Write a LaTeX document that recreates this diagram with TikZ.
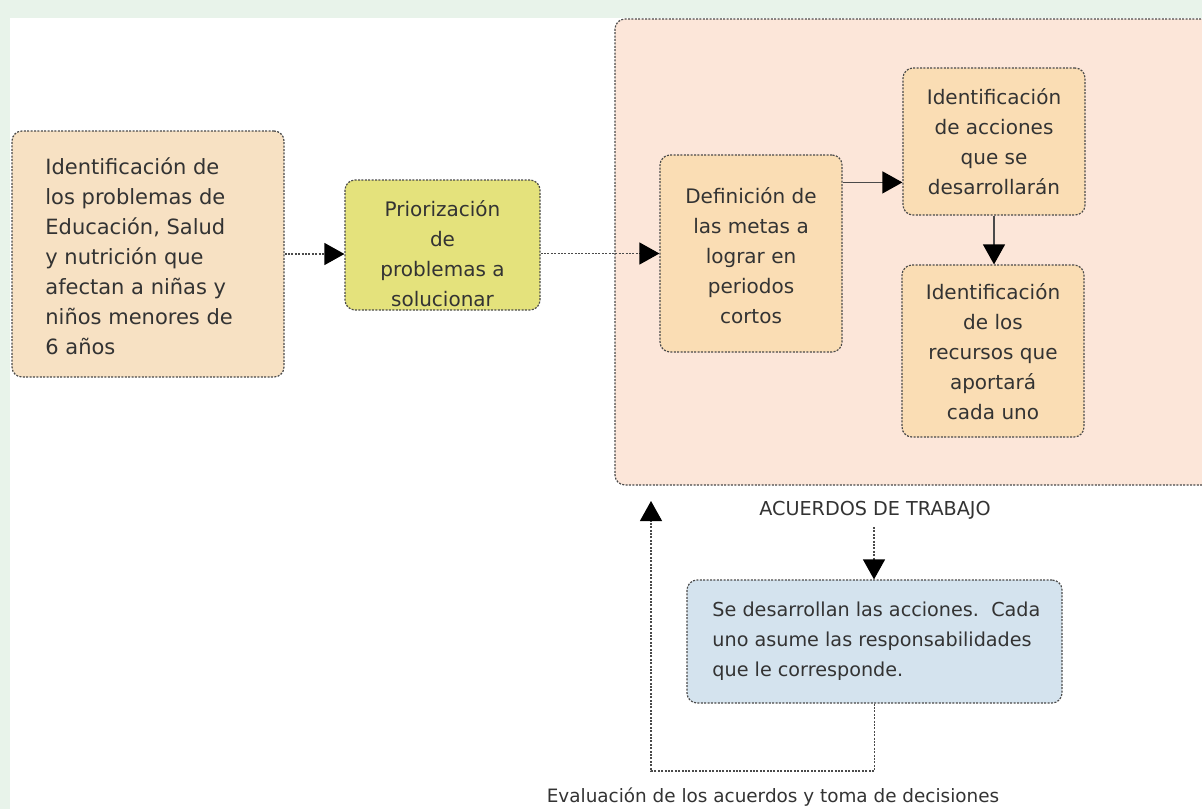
\documentclass[tikz,border=0pt]{standalone}
\usepackage{fontspec}
\setmainfont{DejaVu Sans}
\usetikzlibrary{arrows.meta}
\definecolor{bggreen}{HTML}{E8F3EA}
\definecolor{peachA}{HTML}{F7E1C3}
\definecolor{bigpeach}{HTML}{FCE6D9}
\definecolor{innerpeach}{HTML}{FADDB4}
\definecolor{yellowbox}{HTML}{E4E27C}
\definecolor{bluebox}{HTML}{D4E3EE}
\definecolor{borderc}{HTML}{4A4A4A}
\definecolor{textc}{HTML}{333333}
\begin{document}
\begin{tikzpicture}[x=0.5pt,y=-0.5pt,
  dots/.style={dash pattern=on 1pt off 0.7pt},
  box/.style={draw=borderc, dots, rounded corners=5pt, line width=0.6pt, inner sep=0pt},
  txt/.style={font=\fontsize{10}{15}\selectfont, text=textc, align=center, inner sep=0pt},
  ltxt/.style={txt, align=left},
  conn/.style={draw=borderc, dots, line width=0.6pt, -{Triangle[length=10pt,width=11pt,color=black]}},
  sconn/.style={draw=borderc, line width=0.6pt, -{Triangle[length=10pt,width=11pt,color=black]}}]
\useasboundingbox (0,0) rectangle (1202,809);
\clip (0,0) rectangle (1202,809);
\fill[white] (0,0) rectangle (1202,809);
\fill[bggreen] (0,0) rectangle (1202,18);
\fill[bggreen] (0,0) rectangle (10,809);

% big container
\node[box, fill=bigpeach, minimum width=310pt, minimum height=233pt] (big) at (925,252) {};

% boxes
\node[box, fill=peachA, minimum width=136pt, minimum height=123pt] (b1) at (148,254) {};
\node[ltxt, anchor=north west, font=\fontsize{10.5}{15}\selectfont] (b1t) at (45,157) {Identificación de\\los problemas de\\Educación, Salud\\y nutrición que\\afectan a niñas y\\niños menores de\\6 años};

\node[box, fill=yellowbox, minimum width=97.5pt, minimum height=65pt] (b2) at (442.5,245) {};
\node[txt] (b2t) at (442.5,254) {Priorización\\de\\problemas a\\solucionar};

\node[box, fill=innerpeach, minimum width=91pt, minimum height=98.5pt] (b3) at (751,253.5) {};
\node[txt] (b3t) at (751,256) {Definición de\\las metas a\\lograr en\\periodos\\cortos};

\node[box, fill=innerpeach, minimum width=91pt, minimum height=73.5pt] (b4) at (994,141.5) {};
\node[txt] (b4t) at (994,141.5) {Identificación\\de acciones\\que se\\desarrollarán};

\node[box, fill=innerpeach, minimum width=91pt, minimum height=86pt] (b5) at (993,351) {};
\node[txt] (b5t) at (993,352) {Identificación\\de los\\recursos que\\aportará\\cada uno};

\node[box, fill=bluebox, minimum width=187.5pt, minimum height=61.5pt] (b6) at (874.5,641.5) {};
\node[ltxt, anchor=west, font=\fontsize{9.6}{15}\selectfont] (b6t) at (712,641.5) {Se desarrollan las acciones.\ \ Cada\\uno asume las responsabilidades\\que le corresponde.};

\node[txt, font=\fontsize{9.6}{12}\selectfont] (acu) at (875,510) {ACUERDOS DE TRABAJO};
\node[txt, font=\fontsize{9.2}{12}\selectfont] (eval) at (773,797) {Evaluación de los acuerdos y toma de decisiones};

\coordinate (acutop) at (874,527);
\coordinate (fbcorner) at (651,771);
\coordinate (fbend) at (651,501);

% connectors
\draw[conn] (b1.east) -- (b1.east -| b2.west);
\draw[conn] (b2.east |- b3.west) -- (b3.west);
\draw[sconn] ([yshift=-14pt]b3.north east) -- ([yshift=-14pt]b3.north east -| b4.west);
\draw[sconn] (b4.south) -- (b4.south |- b5.north);
\draw[conn] (acutop) -- (acutop |- b6.north);
\draw[conn] (b6.south) |- (fbcorner) -- (fbend);
\end{tikzpicture}
\end{document}
